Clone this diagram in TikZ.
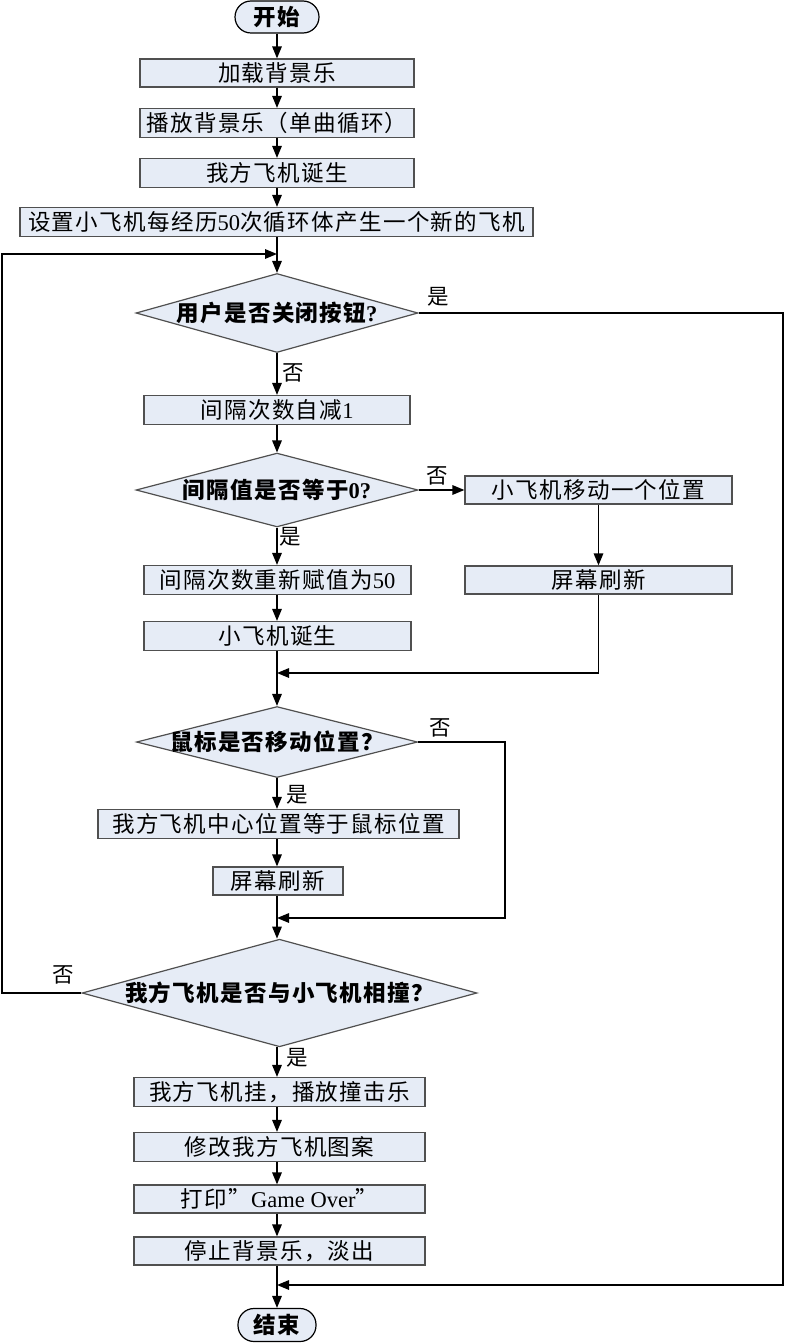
\documentclass[tikz,border=0pt]{standalone}
\usepackage{fontspec}
\setmainfont{Liberation Serif}
\newfontfamily\cjk{Noto Sans CJK SC}[LetterSpace=6]
\usetikzlibrary{shapes.geometric,arrows.meta}
\definecolor{boxfill}{HTML}{E6ECF6}
\definecolor{boxline}{HTML}{505050}
\newcommand\boxfont{\fontsize{22.5}{26}\selectfont}
\newcommand\lblfont{\fontsize{21.5}{25}\selectfont\cjk}
\begin{document}
\begin{tikzpicture}[x=1pt,y=-1pt,
  stepbox/.style={draw=boxline,fill=boxfill,line width=1.2pt,inner sep=0pt,minimum height=29pt,font=\boxfont},
  termbox/.style={draw=black,fill=boxfill,line width=1.2pt,inner sep=0pt,rounded corners=16pt,minimum height=32pt,font=\boxfont\bfseries},
  decbox/.style={diamond,draw=boxline,fill=boxfill,line width=1.2pt,inner sep=0pt,aspect=3.6,font=\boxfont\bfseries},
  conn/.style={draw=black,line width=1.5pt,-{Triangle[length=12pt,width=9.5pt]}},
  plain/.style={draw=black,line width=1.5pt},
  lbl/.style={inner sep=0pt,font=\lblfont}]
\useasboundingbox (0,0) rectangle (785,1343);
% nodes
\node[termbox,minimum width=84pt] (s) at (277,17) {\cjk 开始};
\node[stepbox,minimum width=274pt,minimum height=28pt] (b1) at (277,73) {\cjk 加载背景乐};
\node[stepbox,minimum width=274pt] (b2) at (277,123) {\cjk 播放背景乐（单曲循环）};
\node[stepbox,minimum width=274pt] (b3) at (277,173) {\cjk 我方飞机诞生};
\node[stepbox,minimum width=513pt] (b4) at (276.5,222) {{\cjk 设置小飞机每经历}50{\cjk 次循环体产生一个新的飞机}};
\node[decbox,minimum width=282pt,minimum height=79pt] (d1) at (277,313) {{\cjk 用户是否关闭按钮}?};
\node[stepbox,minimum width=266pt] (b5) at (277,410) {{\cjk 间隔次数自减}1};
\node[decbox,minimum width=282pt,minimum height=71pt] (d2) at (277,490) {{\cjk 间隔值是否等于}0?};
\node[stepbox,minimum width=267pt,minimum height=28pt] (r1) at (598.5,490) {\cjk 小飞机移动一个位置};
\node[stepbox,minimum width=267pt,minimum height=28pt] (r2) at (598.5,580) {\cjk 屏幕刷新};
\node[stepbox,minimum width=267pt] (b6) at (277.5,580) {{\cjk 间隔次数重新赋值为}50};
\node[stepbox,minimum width=267pt] (b7) at (277.5,636) {\cjk 小飞机诞生};
\node[decbox,inner xsep=-15pt,inner ysep=-3pt,minimum width=281pt,minimum height=71pt] (d3) at (277,742) {\cjk 鼠标是否移动位置？};
\node[stepbox,minimum width=361pt] (b8) at (278.5,824) {\cjk 我方飞机中心位置等于鼠标位置};
\node[stepbox,minimum width=130pt,minimum height=28pt] (b9) at (278,881) {\cjk 屏幕刷新};
\node[decbox,minimum width=395pt,minimum height=100pt] (d4) at (279.5,993) {\cjk 我方飞机是否与小飞机相撞？};
\node[stepbox,minimum width=291pt] (b10) at (279.5,1092) {\cjk 我方飞机挂，播放撞击乐};
\node[stepbox,minimum width=291pt] (b11) at (279.5,1147) {\cjk 修改我方飞机图案};
\node[stepbox,minimum width=291pt,minimum height=28pt] (b12) at (279.5,1199) {{\cjk 打印”}Game Over{\cjk ”}};
\node[stepbox,minimum width=291pt,minimum height=28pt] (b13) at (279.5,1251) {\cjk 停止背景乐，淡出};
\node[termbox,minimum width=78pt,minimum height=33pt] (e) at (277,1325) {\cjk 结束};
% labels
\node[lbl] (l1) at (438,297) {是};
\node[lbl] (l2) at (293,373) {否};
\node[lbl] (l3) at (437,476) {否};
\node[lbl] (l4) at (290,537) {是};
\node[lbl] (l5) at (440,728) {否};
\node[lbl] (l6) at (297,795) {是};
\node[lbl] (l7) at (63,975) {否};
\node[lbl] (l8) at (297,1058) {是};
% coordinates
\coordinate (j0) at (277,254);
\coordinate (j1) at (277,673);
\coordinate (j2) at (277,918);
\coordinate (j3) at (277,1285);
\coordinate (c1) at (783,313);
\coordinate (c2) at (783,1285);
\coordinate (c3) at (598.5,673);
\coordinate (c4) at (505,742);
\coordinate (c5) at (505,918);
\coordinate (c6) at (2,993);
\coordinate (c7) at (2,254);
% connectors
\draw[conn] (s.south) -- (s.south |- b1.north);
\draw[conn] (b1.south -| s.south) -- (s.south |- b2.north);
\draw[conn] (b2.south -| s.south) -- (s.south |- b3.north);
\draw[conn] (b3.south -| s.south) -- (s.south |- b4.north);
\draw[conn] (b4.south -| s.south) -- (d1.north);
\draw[conn] (d1.east) -- (c1) -- (c2) -- (j3);
\draw[conn] (d1.south) -- (d1.south |- b5.north);
\draw[conn] (b5.south -| d1.south) -- (d2.north);
\draw[conn] (d2.east) -- (r1.west);
\draw[conn] (r1.south) -- (r2.north);
\draw[conn] (r2.south) -- (c3) -- (j1);
\draw[conn] (d2.south) -- (d2.south |- b6.north);
\draw[conn] (b6.south -| d2.south) -- (d2.south |- b7.north);
\draw[plain] (b7.south -| d2.south) -- (j1);
\draw[conn] (j1) -- (d3.north);
\draw[conn] (d3.east) -- (c4) -- (c5) -- (j2);
\draw[conn] (d3.south) -- (d3.south |- b8.north);
\draw[conn] (b8.south -| d3.south) -- (d3.south |- b9.north);
\draw[plain] (b9.south -| d3.south) -- (j2);
\draw[conn] (j2) -- (j2 |- d4.north);
\draw[conn] (d4.west) -- (c6) -- (c7) -- (j0);
\draw[conn] (j2 |- d4.south) -- (j2 |- b10.north);
\draw[conn] (j2 |- b10.south) -- (j2 |- b11.north);
\draw[conn] (j2 |- b11.south) -- (j2 |- b12.north);
\draw[conn] (j2 |- b12.south) -- (j2 |- b13.north);
\draw[conn] (j2 |- b13.south) -- (e.north);
\end{tikzpicture}
\end{document}
